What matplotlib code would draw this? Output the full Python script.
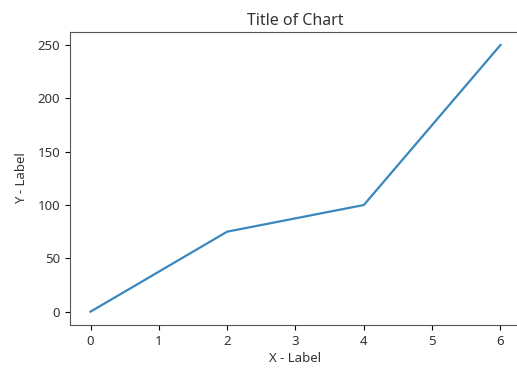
import matplotlib
matplotlib.use("Agg")
import matplotlib.pyplot as plt

plt.rcParams['font.family'] = ['Noto Sans', 'DejaVu Sans']
plt.rcParams['text.color'] = '#333333'
plt.rcParams['axes.labelcolor'] = '#333333'
plt.rcParams['xtick.labelcolor'] = '#333333'
plt.rcParams['ytick.labelcolor'] = '#333333'

x = [0, 2, 4, 6]
y = [0, 75, 100, 250]

fig = plt.figure(figsize=(5.17, 3.70), dpi=100)
ax = fig.add_axes([0.1354, 0.1216, 0.8723, 0.7928])
ax.plot(x, y, color="#3a87bd", linewidth=1.6)
ax.set_title("Title of Chart", fontsize=11.5, pad=5)
ax.set_xlabel("X - Label", fontsize=9.5, labelpad=3)
ax.set_ylabel("Y - Label", fontsize=9.5, labelpad=7)
ax.tick_params(labelsize=9.5)
for s in ax.spines.values():
    s.set_color('#555555')
fig.savefig("out.png", dpi=100)
